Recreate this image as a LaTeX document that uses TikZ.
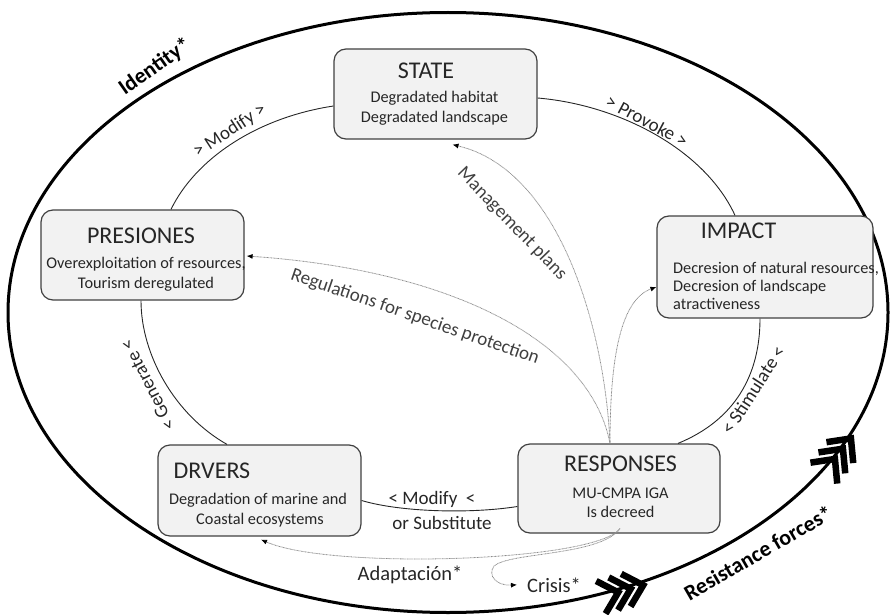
\documentclass[tikz,border=0pt]{standalone}
\usepackage{fontspec}
\setmainfont{Carlito}
\usetikzlibrary{arrows.meta,calc}
\definecolor{boxfill}{HTML}{F2F2F2}
\definecolor{boxline}{HTML}{404040}
\definecolor{ink}{HTML}{262626}
\definecolor{guide}{HTML}{8C8C8C}

\begin{document}
\begin{tikzpicture}[x=1pt,y=-1pt,
  stagebox/.style={draw=boxline, fill=boxfill, line width=1.2pt, rounded corners=12pt, inner sep=0pt},
  title/.style={font=\fontsize{24}{28}\selectfont, text=ink, inner sep=0pt},
  body/.style={font=\fontsize{16.3}{19.5}\selectfont, text=ink, inner sep=0pt, anchor=base},
  cyc/.style={draw=ink, line width=0.9pt},
  lbl/.style={font=\fontsize{19}{22}\selectfont, text=ink, inner sep=0pt},
  plbl/.style={font=\fontsize{19}{22}\selectfont, text=boxline, inner sep=0pt},
  policy/.style={draw=guide, line width=0.8pt, dash pattern=on 0.8pt off 0.6pt,
                 -{Latex[length=6pt,width=5pt,black]}},
  rim/.style={line width=3pt},
  chev/.style={line width=6.5pt, line join=miter, line cap=butt},
  rimlbl/.style={font=\bfseries\fontsize{22}{25}\selectfont, inner sep=0pt}
]
\useasboundingbox (0,0) rectangle (891,615);

% outer boundary
\draw[rim] (448,312.5) ellipse [x radius=440pt, y radius=300pt];

% fletching marks on the boundary
\begin{scope}[shift={(623,591)}, rotate=16]
  \draw[chev] (3pt,17pt) -- (21pt,0pt) -- (3pt,-17pt);
  \draw[chev] (-10pt,17pt) -- (8pt,0pt) -- (-10pt,-17pt);
  \draw[chev] (-23pt,17pt) -- (-5pt,0pt) -- (-23pt,-17pt);
\end{scope}
\begin{scope}[shift={(838,455)}, rotate=52]
  \draw[chev] (3pt,17pt) -- (21pt,0pt) -- (3pt,-17pt);
  \draw[chev] (-10pt,17pt) -- (8pt,0pt) -- (-10pt,-17pt);
  \draw[chev] (-23pt,17pt) -- (-5pt,0pt) -- (-23pt,-17pt);
\end{scope}

\node[rimlbl, rotate=35] (identity) at (155,67) {Identity*};
\node[rimlbl, rotate=30] (resist) at (758,553) {Resistance forces*};

% stage boxes
\node[stagebox, minimum width=203pt, minimum height=90pt] (state) at (435.5,94) {};
\node[stagebox, minimum width=203pt, minimum height=90pt] (pres) at (142.5,255) {};
\node[stagebox, minimum width=216pt, minimum height=102pt] (impact) at (765,267) {};
\node[stagebox, minimum width=203pt, minimum height=91pt] (drv) at (259.5,490.5) {};
\node[stagebox, minimum width=202pt, minimum height=89pt] (resp) at (619,488.5) {};

% box contents
\node[title] (stateT) at (426,71) {STATE};
\node[body] (stateA) at (434.5,103) {Degradated habitat};
\node[body] (stateB) at (434.5,123) {Degradated landscape};

\node[title] (presT) at (141,236) {PRESIONES};
\node[body] (presA) at (146,268) {Overexploitation of resources,};
\node[body] (presB) at (146,288) {Tourism deregulated};

\node[title] (impactT) at (738.5,231) {IMPACT};
\node[body, anchor=base west] (impactA) at (673,273) {Decresion of natural resources,};
\node[body, anchor=base west] (impactB) at (673,291) {Decresion of landscape};
\node[body, anchor=base west] (impactC) at (673,309) {atractiveness};

\node[title] (drvT) at (212,470.5) {DRVERS};
\node[body] (drvA) at (258,504) {Degradation of marine and};
\node[body] (drvB) at (260,524) {Coastal ecosystems};

\node[title] (respT) at (620.5,464) {RESPONSES};
\node[body] (respA) at (620.5,498) {MU-CMPA IGA};
\node[body] (respB) at (620.5,517) {Is decreed};

% causal cycle
\draw[cyc] ($(state.west)+(0,12)$) .. controls (255,118) and (195,160) .. ($(pres.north)+(28.5,0)$);
\draw[cyc] ($(state.east)+(0,4)$) .. controls (620,105) and (705,150) .. ($(impact.north)+(-30,0)$);
\draw[cyc] ($(impact.south)+(-5,0)$) .. controls (760,375) and (735,420) .. ($(resp.north)+(59,0)$);
\draw[cyc] ($(resp.west)+(0,18)$) .. controls (470,514) and (400,512) .. ($(drv.east)+(0,10)$);
\draw[cyc] ($(drv.north)+(-32.5,0)$) .. controls (175,415) and (141,355) .. ($(pres.south)+(-1.5,0)$);

\node[lbl, rotate=33] (lmod) at (230,131) {> Modify >};
\node[lbl, rotate=-28] (lprov) at (647,121) {> Provoke >};
\node[lbl, rotate=57] (lstim) at (753,390) {< Stimulate <};
\node[lbl, rotate=117] (lgen) at (148,385) {< Generate <};
\node[lbl] (lmod2) at (432,499) {< Modify\ \ <};
\node[lbl] (lsub) at (442,523) {or Substitute};

% policy responses
\draw[policy] ($(resp.north)+(-9,0)$) .. controls (605,330) and (560,170) .. ($(state.south)+(17,5)$);
\draw[policy] ($(resp.north)+(-9,0)$) .. controls (610,360) and (620,300) .. ($(impact.west)+(0,20)$);
\draw[policy] ($(resp.north)+(-9,0)$) .. controls (590,340) and (450,270) .. ($(pres.east)+(2,1)$);
\node[plbl, rotate=-46] (lmgmt) at (512,224) {Management plans};
\node[plbl, rotate=-19] (lreg) at (415,317) {Regulations for species protection};

% adaptation and crisis
\node[font=\fontsize{20.5}{24}\selectfont, text=ink, inner sep=0pt, anchor=base] (adapt) at (410,580) {Adaptación*};
\node[font=\fontsize{20.5}{24}\selectfont, text=ink, inner sep=0pt, anchor=base west] (crisis) at (527,592) {Crisis*};
\draw[policy] ($(resp.south)+(1,-5)$) .. controls (595,562) and (330,570) .. ($(drv.south)+(1.5,3)$);
\draw[policy] ($(resp.south)+(1,-5)$) .. controls (600,556) and (510,552) .. (494,566)
  .. controls (487,576) and (497,586) .. ([xshift=-10pt]crisis.west);
\end{tikzpicture}
\end{document}
